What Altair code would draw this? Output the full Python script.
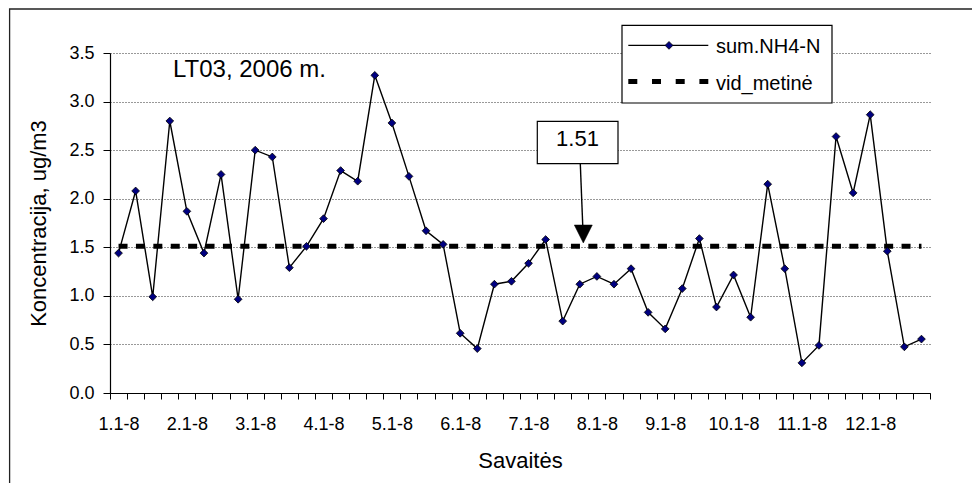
import altair as alt
import pandas as pd

# ---- data ----
months = list(range(1, 13))
week_parts = ["1-8", "8-15", "15-22", "22-29"]
weeks = [f"{m}.{p}" for m in months for p in week_parts]
values = [1.44, 2.08, 0.99, 2.80, 1.87, 1.44, 2.25, 0.965, 2.50, 2.43, 1.29, 1.51,
          1.795, 2.29, 2.18, 3.27, 2.78, 2.23, 1.67, 1.53, 0.615, 0.457, 1.12, 1.15,
          1.335, 1.58, 0.74, 1.12, 1.20, 1.12, 1.28, 0.83, 0.66, 1.075, 1.59, 0.885,
          1.215, 0.78, 2.15, 1.28, 0.31, 0.49, 2.64, 2.06, 2.865, 1.46, 0.475, 0.555]
mean_value = 1.51
series_name = "sum.NH4-N"
mean_name = "vid_metinė"
title_text = "LT03, 2006 m."
annot_text = "1.51"
x_title = "Savaitės"
y_title = "Koncentracija, ug/m3"
y_ticks = [0.0, 0.5, 1.0, 1.5, 2.0, 2.5, 3.0, 3.5]

FONT = "Liberation Sans"

df = pd.DataFrame({"week": weeks, "value": values, "mean": [mean_value] * len(weeks)})
one = pd.DataFrame({"k": [0]})

xscale = alt.Scale(type="band", domain=weeks, paddingInner=0, paddingOuter=0)
yscale = alt.Scale(domain=[0, 3.5], nice=False, zero=True)

x_axis = alt.Axis(
    title=x_title, tickBand="extent", labelAngle=0, tickSize=6, labelPadding=16,
    labelExpr="slice(datum.label, -4) == '.1-8' ? datum.label : ''",
    domainColor="black", tickColor="black", grid=False, titlePadding=17,
)
y_axis = alt.Axis(
    title=y_title, values=y_ticks, format=".1f", tickSize=7, labelPadding=9,
    domainColor="black", tickColor="black", grid=True, gridColor="#333",
    gridDash=[1, 2], gridWidth=1, titlePadding=18,
)

base = alt.Chart(df)

# frame around the whole figure (decorative)
frame = alt.Chart(one).mark_rect(filled=False, stroke="#222", strokeWidth=1.3).encode(
    x=alt.value(-100.4), y=alt.value(-44), x2=alt.value(900), y2=alt.value(500)
)

mean_line = base.mark_line(color="black", strokeWidth=5, strokeDash=[9, 8.4]).encode(
    x=alt.X("week:N", scale=xscale, axis=x_axis, sort=weeks),
    y=alt.Y("mean:Q", scale=yscale, axis=y_axis),
)

series_line = base.mark_line(color="black", strokeWidth=1.4).encode(
    x=alt.X("week:N", scale=xscale, sort=weeks),
    y=alt.Y("value:Q", scale=yscale),
)
series_pts = base.mark_point(shape="diamond", filled=True, fill="#000080", stroke="black",
                             strokeWidth=0.8, size=60, opacity=1).encode(
    x=alt.X("week:N", scale=xscale, sort=weeks),
    y=alt.Y("value:Q", scale=yscale),
)

title_mark = alt.Chart(one).mark_text(text=title_text, font=FONT, fontSize=24, align="left",
                                      baseline="alphabetic", color="black").encode(
    x=alt.value(63), y=alt.value(24)
)

# annotation box with arrow
annot_box = alt.Chart(one).mark_rect(fill="white", stroke="black", strokeWidth=1.2).encode(
    x=alt.value(427.3), x2=alt.value(508), y=alt.value(68.4), y2=alt.value(110.7)
)
annot_txt = alt.Chart(one).mark_text(text=annot_text, font=FONT, fontSize=22, align="center",
                                     baseline="alphabetic", color="black").encode(
    x=alt.value(467.5), y=alt.value(93)
)
arrow_shaft = alt.Chart(one).mark_rule(color="black", strokeWidth=1.4).encode(
    x=alt.value(470.3), x2=alt.value(472.8), y=alt.value(110.7), y2=alt.value(174)
)
arrow_head = alt.Chart(one).mark_point(shape="M-1,-1L1,-1L0,1Z", filled=True, fill="black",
                                       stroke="black", strokeWidth=0.5, size=324, opacity=1).encode(
    x=alt.value(473.3), y=alt.value(181)
)

# legend (drawn box)
leg_box = alt.Chart(one).mark_rect(fill="white", stroke="black", strokeWidth=1.2).encode(
    x=alt.value(512), x2=alt.value(722), y=alt.value(-27.6), y2=alt.value(50)
)
leg_line1 = alt.Chart(one).mark_rule(color="black", strokeWidth=1.4).encode(
    x=alt.value(518.3), x2=alt.value(598.3), y=alt.value(-7.6)
)
leg_pt1 = alt.Chart(one).mark_point(shape="diamond", filled=True, fill="#000080", stroke="black",
                                    strokeWidth=0.8, size=60, opacity=1).encode(
    x=alt.value(559), y=alt.value(-7.6)
)
leg_txt1 = alt.Chart(one).mark_text(text=series_name, font=FONT, fontSize=20, align="left",
                                    baseline="alphabetic", color="black").encode(
    x=alt.value(606), y=alt.value(0)
)
leg_line2 = alt.Chart(one).mark_rule(color="black", strokeWidth=5, strokeDash=[9, 14.7]).encode(
    x=alt.value(518.3), x2=alt.value(598.3), y=alt.value(28.4)
)
leg_txt2 = alt.Chart(one).mark_text(text=mean_name, font=FONT, fontSize=20, align="left",
                                    baseline="alphabetic", color="black").encode(
    x=alt.value(606), y=alt.value(37.4)
)

chart = alt.layer(
    frame, mean_line, series_line, series_pts, title_mark,
    annot_box, annot_txt, arrow_shaft, arrow_head,
    leg_box, leg_line1, leg_pt1, leg_txt1, leg_line2, leg_txt2,
).properties(
    width=820, height=340,
    autosize=alt.AutoSizeParams(type="none"),
    padding={"left": 110, "top": 53, "right": 42, "bottom": 90},
    background="white",
).configure_view(stroke=None).configure_axis(
    labelFont=FONT, labelFontSize=18, labelColor="black",
    titleFont=FONT, titleFontSize=22, titleFontWeight="normal", titleColor="black",
    domainWidth=1.2, tickWidth=1,
)

chart.save("out.html", embed_options={"renderer": "svg", "actions": False})
